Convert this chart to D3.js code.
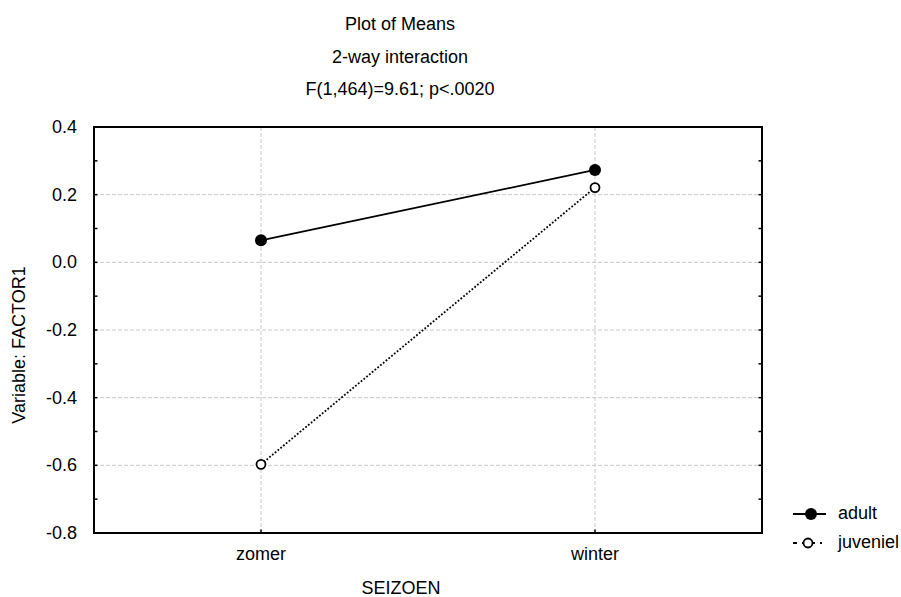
<!DOCTYPE html>
<html>
<head>
<style>
body { margin: 0; background: #fff; }
text { font-family: "Liberation Sans", Arial, sans-serif; fill: #000; }
</style>
</head>
<body>
<svg width="901" height="597"></svg>
<script src="https://d3js.org/d3.v7.min.js"></script>
<script>
var seasons = ["zomer", "winter"];
var adult = [0.065, 0.273];
var juveniel = [-0.597, 0.221];
var yTicks = [0.4, 0.2, 0.0, -0.2, -0.4, -0.6, -0.8];
var titles = ["Plot of Means", "2-way interaction", "F(1,464)=9.61; p<.0020"];

var svg = d3.select("svg");
var fs = 18;
var pLeft = 94, pRight = 762, pTop = 127, pBottom = 533;

var x = d3.scalePoint().domain(seasons).range([pLeft, pRight]).padding(0.5);
var y = d3.scaleLinear().domain([-0.8, 0.4]).range([pBottom, pTop]);

// titles
svg.selectAll(".title").data(titles).enter().append("text")
    .attr("x", 400).attr("y", function(d, i) { return 30 + i * 32.5; })
    .attr("text-anchor", "middle").attr("font-size", fs)
    .text(function(d) { return d; });

// grid
var grid = svg.append("g").attr("stroke", "#c8c8c8").attr("stroke-dasharray", "4,2");
grid.selectAll(".gy").data(yTicks.slice(1, -1)).enter().append("line")
    .attr("x1", pLeft).attr("x2", pRight)
    .attr("y1", function(d) { return y(d); }).attr("y2", function(d) { return y(d); });
grid.selectAll(".gx").data(seasons).enter().append("line")
    .attr("y1", pTop).attr("y2", pBottom)
    .attr("x1", function(d) { return x(d); }).attr("x2", function(d) { return x(d); });

// ticks inside
var minor = d3.range(-0.8, 0.41, 0.1);
var ticks = svg.append("g").attr("stroke", "#000").attr("stroke-width", 1.5);
ticks.selectAll(".tl").data(minor).enter().append("line")
    .attr("x1", pLeft).attr("x2", pLeft + 3.5)
    .attr("y1", function(d) { return y(d); }).attr("y2", function(d) { return y(d); });
ticks.selectAll(".tr").data(minor).enter().append("line")
    .attr("x1", pRight).attr("x2", pRight - 3.5)
    .attr("y1", function(d) { return y(d); }).attr("y2", function(d) { return y(d); });
ticks.selectAll(".tb").data(seasons).enter().append("line")
    .attr("y1", pBottom).attr("y2", pBottom - 3.5)
    .attr("x1", function(d) { return x(d); }).attr("x2", function(d) { return x(d); });

// frame
svg.append("rect").attr("x", pLeft).attr("y", pTop)
    .attr("width", pRight - pLeft).attr("height", pBottom - pTop)
    .attr("fill", "none").attr("stroke", "#000").attr("stroke-width", 2);

// tick labels
svg.selectAll(".yl").data(yTicks).enter().append("text")
    .attr("x", 77).attr("y", function(d) { return y(d) + 6; })
    .attr("text-anchor", "end").attr("font-size", fs)
    .text(function(d) { return d3.format(".1f")(d).replace("−", "-"); });
svg.selectAll(".xl").data(seasons).enter().append("text")
    .attr("x", function(d) { return x(d); }).attr("y", 560)
    .attr("text-anchor", "middle").attr("font-size", fs)
    .text(function(d) { return d; });

svg.append("text").attr("x", 401).attr("y", 594).attr("text-anchor", "middle")
    .attr("font-size", fs).text("SEIZOEN");
svg.append("text").attr("transform", "translate(25,345) rotate(-90)")
    .attr("text-anchor", "middle").attr("font-size", fs).text("Variable: FACTOR1");

// lines
var line = d3.line().x(function(d, i) { return x(seasons[i]); }).y(function(d) { return y(d); });
svg.append("path").datum(adult).attr("d", line)
    .attr("fill", "none").attr("stroke", "#000").attr("stroke-width", 1.8);
svg.append("path").datum(juveniel).attr("d", line)
    .attr("fill", "none").attr("stroke", "#000").attr("stroke-width", 1.8)
    .attr("stroke-dasharray", "1.8,1.8");

svg.selectAll(".pa").data(adult).enter().append("circle")
    .attr("cx", function(d, i) { return x(seasons[i]); }).attr("cy", function(d) { return y(d); })
    .attr("r", 6).attr("fill", "#000");
svg.selectAll(".pj").data(juveniel).enter().append("circle")
    .attr("cx", function(d, i) { return x(seasons[i]); }).attr("cy", function(d) { return y(d); })
    .attr("r", 4.5).attr("fill", "#fff").attr("stroke", "#000").attr("stroke-width", 1.8);

// legend
var lg = svg.append("g");
lg.append("line").attr("x1", 793).attr("x2", 826).attr("y1", 514).attr("y2", 514)
    .attr("stroke", "#000").attr("stroke-width", 1.8);
lg.append("circle").attr("cx", 811).attr("cy", 514).attr("r", 6).attr("fill", "#000");
lg.append("text").attr("x", 838).attr("y", 519).attr("font-size", fs).text("adult");
lg.append("line").attr("x1", 793).attr("x2", 822).attr("y1", 543).attr("y2", 543)
    .attr("stroke", "#000").attr("stroke-width", 1.8).attr("stroke-dasharray", "4,5");
lg.append("circle").attr("cx", 808).attr("cy", 543).attr("r", 4.5)
    .attr("fill", "#fff").attr("stroke", "#000").attr("stroke-width", 1.8);
lg.append("text").attr("x", 838).attr("y", 548).attr("font-size", fs).text("juveniel");
</script>
</body>
</html>
